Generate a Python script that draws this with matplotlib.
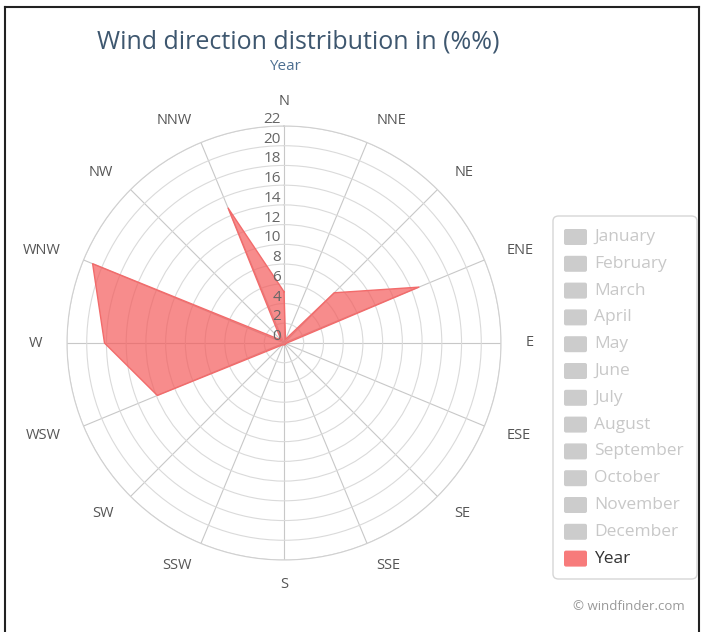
import numpy as np
import matplotlib.pyplot as plt
from matplotlib.patches import FancyBboxPatch
from matplotlib.lines import Line2D
from matplotlib.transforms import offset_copy

plt.rcParams['font.family'] = ['Open Sans', 'DejaVu Sans']

# wind rose data (percent of time per direction, whole year)
directions = ['N', 'NNE', 'NE', 'ENE', 'E', 'ESE', 'SE', 'SSE',
              'S', 'SSW', 'SW', 'WSW', 'W', 'WNW', 'NW', 'NNW']
year_pct = [5.2, 0.4, 7.2, 14.8, 0.3, 0.2, 0.2, 0.2,
            0.2, 0.2, 0.3, 13.9, 18.2, 21.0, 0.4, 14.8]
r_ticks = list(range(0, 23, 2))
months = ['January', 'February', 'March', 'April', 'May', 'June', 'July',
          'August', 'September', 'October', 'November', 'December']

W, H = 702, 632
fig = plt.figure(figsize=(W / 100, H / 100), dpi=100)


def fx(x):
    return x / W


def fy(y):
    return 1 - y / H


# polar area, pixel centre and radius
cx, cy, R = 284, 343, 217
ax = fig.add_axes([fx(cx - R), fy(cy + R), 2 * R / W, 2 * R / H], projection='polar')
ax.set_theta_zero_location('N')
ax.set_theta_direction(-1)

angles = np.deg2rad(np.arange(len(directions)) * 360 / len(directions))
ax.set_xticks(angles)
ax.set_xticklabels([])
ax.set_yticks(r_ticks)
ax.set_yticklabels([])
ax.set_ylim(0, r_ticks[-1])
ax.xaxis.grid(True, color='#c8c8c8', lw=0.8)
ax.yaxis.grid(True, color='#dadada', lw=0.8)
ax.spines['polar'].set_color('#d0d0d0')
ax.spines['polar'].set_linewidth(0.8)
ax.tick_params(length=0)

th = np.append(angles, angles[0])
rr = np.append(year_pct, year_pct[0])
ax.fill(th, rr, color='#f45b5b', alpha=0.7, lw=0, zorder=3)
ax.plot(th, rr, color='#f26b6b', lw=1, zorder=4)

# direction labels around the rim, anchored like highcharts does
for a, d in zip(angles, directions):
    s = np.sin(a)
    ha = 'center' if abs(s) < 0.1 else ('left' if s > 0 else 'right')
    ax.text(a, r_ticks[-1] * 1.112, d, ha=ha, va='center',
            fontsize=10.5, color='#555555', clip_on=False)

# radial labels along the north spoke
lab_tr = offset_copy(ax.transData, fig=fig, x=-3, y=-1, units='dots')
for r in r_ticks:
    ax.text(0, r, str(r), transform=lab_tr, ha='right', va='bottom',
            fontsize=11, color='#666666', zorder=5)

# titles
fig.text(fx(298), fy(42), 'Wind direction distribution in (%%)', ha='center', va='center',
         fontsize=18, color='#3e576f')
fig.text(fx(285), fy(66), 'Year', ha='center', va='center', fontsize=11, color='#4d6f91')

# legend box
fig.add_artist(FancyBboxPatch((fx(553), fy(579)), fx(697) - fx(553), fy(216) - fy(579),
                              boxstyle='round,pad=0,rounding_size=0.008',
                              transform=fig.transFigure, fc='white', ec='#d6d6d6', lw=1))
items = months + ['Year']
for i, name in enumerate(items):
    y = 237 + i * 26.8
    on = name == 'Year'
    fig.add_artist(FancyBboxPatch((fx(564), fy(y + 8)), fx(587) - fx(564), fy(y - 8) - fy(y + 8),
                                  boxstyle='round,pad=0,rounding_size=0.003',
                                  transform=fig.transFigure,
                                  fc='#f77b7b' if on else '#cccccc', ec='none'))
    fig.text(fx(594), fy(y), name, ha='left', va='center', fontsize=12.5,
             color='#333333' if on else '#c8c8c8')

fig.text(fx(685), fy(607), '\u00a9 windfinder.com', ha='right', va='center',
         fontsize=9.5, color='#999999')

# dark frame of the screenshot
for xs, ys in [((5, 5), (7, 632)), ((5, 699), (7, 7)), ((699, 699), (7, 632))]:
    fig.add_artist(Line2D([fx(x) for x in xs], [fy(y) for y in ys], color='#222222', lw=1.5,
                          transform=fig.transFigure))

fig.savefig('out.png', dpi=100, facecolor='white')
